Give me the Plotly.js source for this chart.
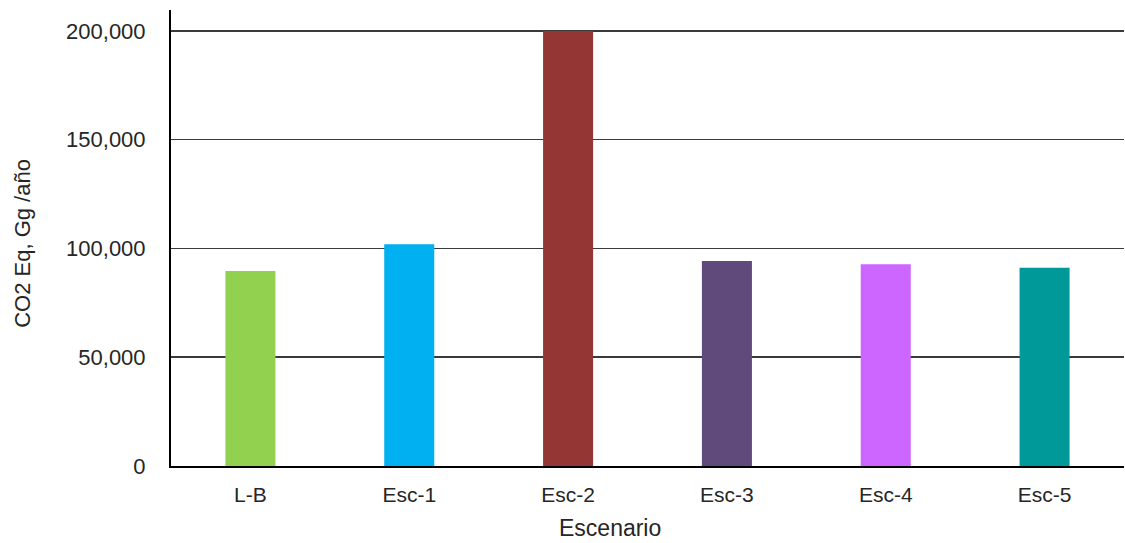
<!DOCTYPE html>
<html>
<head>
<meta charset="utf-8">
<script src="https://cdn.plot.ly/plotly-3.0.1.min.js"></script>
<style>
  html, body { margin: 0; padding: 0; background: #fff; }
  #chart { width: 1125px; height: 543px; }
</style>
</head>
<body>
<div id="chart"></div>
<script>
// Emisiones anuales por escenario (CO2 Eq, Gg/año)
const scenarios = ['L-B', 'Esc-1', 'Esc-2', 'Esc-3', 'Esc-4', 'Esc-5'];
const emissions = [89600, 101900, 200000, 94200, 92700, 91200];
const barColors = ['#92D050', '#00B0F0', '#943634', '#604A7B', '#CC66FF', '#009999'];
const yTickValues = [0, 50000, 100000, 150000, 200000];
const yTickLabels = ['0', '50,000', '100,000', '150,000', '200,000'];

const font = 'Liberation Sans, Arial, sans-serif';
const textColor = '#262626';

const trace = {
  type: 'bar',
  x: scenarios,
  y: emissions,
  marker: { color: barColors, line: { width: 0 } },
  hoverinfo: 'x+y'
};

const layout = {
  width: 1125,
  height: 543,
  margin: { l: 171, r: 1, t: 10, b: 76.5 },
  paper_bgcolor: '#ffffff',
  plot_bgcolor: '#ffffff',
  showlegend: false,
  bargap: 0.685,
  font: { family: font, color: textColor },
  xaxis: {
    type: 'category',
    showgrid: false,
    showline: true,
    linecolor: '#000000',
    linewidth: 2,
    ticks: '',
    ticklabelstandoff: 9,
    tickfont: { family: font, size: 21, color: textColor },
    zeroline: false
  },
  yaxis: {
    range: [0, 209640],
    tickvals: yTickValues,
    ticktext: yTickLabels,
    showgrid: true,
    gridcolor: '#3a3a3a',
    gridwidth: 1.5,
    showline: true,
    linecolor: '#000000',
    linewidth: 2,
    ticks: '',
    ticklabelstandoff: 19,
    tickfont: { family: font, size: 22, color: textColor },
    zeroline: false
  },
  annotations: [
    {
      text: 'Escenario',
      xref: 'paper', yref: 'paper',
      x: (610 - 171) / 953.5, y: -(529 - 466.5) / 456.5,
      xanchor: 'center', yanchor: 'middle',
      showarrow: false,
      font: { family: font, size: 23, color: textColor }
    },
    {
      text: 'CO2 Eq, Gg /año',
      xref: 'paper', yref: 'paper',
      x: -(171 - 23) / 953.5, y: (466.5 - 244) / 456.5,
      xanchor: 'center', yanchor: 'middle',
      textangle: -90,
      showarrow: false,
      font: { family: font, size: 22, color: textColor }
    }
  ]
};

Plotly.newPlot('chart', [trace], layout, { displayModeBar: false, staticPlot: true });
</script>
</body>
</html>
